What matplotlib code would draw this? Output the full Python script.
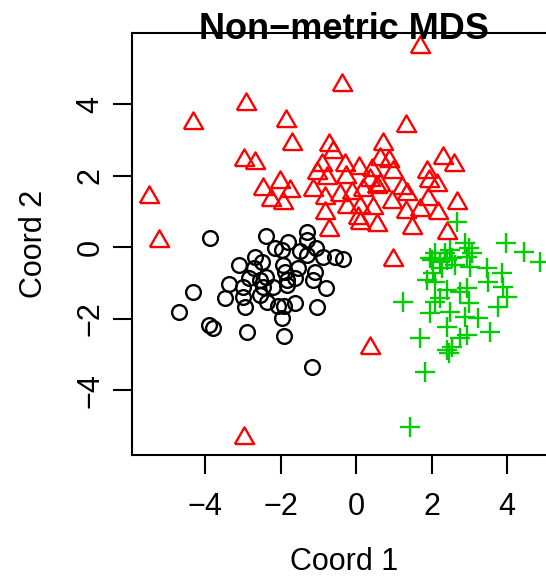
import numpy as np
import matplotlib
matplotlib.use("Agg")
import matplotlib.pyplot as plt

# point coordinates (Coord 1, Coord 2)
circ_x = [-3.87, -2.38, -1.29, -1.31, -1.81, -2.15, -1.97, -1.48, -1.06, -0.87,
          -0.56, -0.35, -1.31, -2.68, -2.50, -3.10, -2.70, -1.93, -1.88, -1.53,
          -1.09, -2.38, -2.85, -2.54, -1.84, -1.62, -1.13, -3.36, -2.19, -1.84,
          -2.46, -2.99, -0.79, -4.33, -3.47, -2.99, -2.54, -2.37, -2.06, -1.91,
          -1.62, -1.04, -2.94, -4.69, -1.97, -3.89, -3.78, -2.90, -1.91, -1.17]
circ_y = [0.25, 0.32, 0.44, 0.20, 0.14, -0.01, -0.08, -0.10, -0.03, -0.26,
          -0.26, -0.34, -0.22, -0.26, -0.40, -0.50, -0.59, -0.50, -0.68, -0.59,
          -0.68, -0.82, -0.87, -0.91, -0.91, -0.87, -0.91, -1.04, -1.10, -1.05,
          -1.10, -1.10, -1.15, -1.24, -1.41, -1.38, -1.33, -1.52, -1.64, -1.64,
          -1.57, -1.66, -1.66, -1.82, -1.99, -2.17, -2.27, -2.36, -2.48, -3.34]

tri_x = [-2.91, -4.31, -1.86, -1.70, -2.96, -2.68, -5.50, -5.22, -2.48, -2.01,
         -1.75, -2.26, -1.93, -0.71, -0.37, 1.70, -0.60, -0.91, -1.04, -0.78,
         -0.29, 0.07, -0.26, -1.15, -0.82, -0.42, -0.11, -0.82, -0.25, 0.11,
         0.06, 0.46, -0.73, 0.55, 0.42, 0.37, 0.19, 1.32, 0.72, 0.64,
         0.86, 2.31, 2.59, 1.87, 1.93, 2.14, 1.21, 1.34, 0.95, 1.90,
         1.32, 1.70, 2.18, 2.67, 1.48, 2.42, 0.99, 0.37, -2.97, 0.09,
         0.55, 0.99, 0.64]
tri_y = [4.01, 3.47, 3.54, 2.88, 2.44, 2.35, 1.42, 0.18, 1.62, 1.84,
         1.58, 1.32, 1.23, 2.86, 4.54, 5.61, 2.67, 2.30, 2.07, 1.93,
         2.30, 2.23, 1.98, 1.60, 1.37, 1.46, 1.51, 0.95, 1.14, 1.14,
         0.81, 1.09, 0.48, 0.62, 2.16, 1.88, 1.60, 3.39, 2.89, 2.48,
         2.42, 2.50, 2.30, 2.10, 1.86, 1.75, 1.65, 1.48, 1.28, 1.35,
         1.00, 1.04, 0.95, 1.25, 0.53, 0.39, -0.36, -2.83, -5.34, 0.67,
         1.70, 2.11, 1.75]

plus_x = [3.97, 4.45, 4.86, 2.67, 2.89, 3.00, 3.06, 2.95, 2.49, 2.36,
          2.09, 2.01, 2.23, 2.40, 2.54, 2.62, 2.27, 2.05, 1.87, 2.09,
          3.02, 3.46, 3.86, 3.50, 3.90, 3.99, 3.77, 2.93, 2.76, 2.40,
          2.23, 2.09, 1.25, 2.98, 2.49, 1.96, 2.89, 3.24, 2.40, 3.55,
          2.93, 2.76, 1.70, 2.54, 2.40, 2.45, 1.83, 1.43, 1.96]
plus_y = [0.13, -0.14, -0.40, 0.70, 0.11, -0.03, -0.17, -0.26, -0.08, -0.17,
          -0.17, -0.36, -0.40, -0.36, -0.31, -0.50, -0.59, -0.73, -0.91, -0.96,
          -0.54, -0.59, -0.73, -0.96, -1.10, -1.38, -1.66, -1.15, -1.24, -1.19,
          -1.43, -1.52, -1.54, -1.57, -1.80, -1.85, -1.94, -1.99, -2.22, -2.36,
          -2.45, -2.55, -2.55, -2.78, -2.87, -2.97, -3.48, -5.02, -0.31]

ticks = [-4, -2, 0, 2, 4]

plt.rcParams['font.family'] = ['Liberation Sans', 'DejaVu Sans']

W, H = 546, 576
fig = plt.figure(figsize=(W / 100, H / 100), dpi=100)
# plot box: left 132px, bottom 455px, top 33px, right edge runs past the figure
ax = fig.add_axes([132.3 / W, 1 - 455.3 / H, (555 - 132.3) / W, (455.3 - 33.3) / H])

# equilateral triangle, centred on its centroid like R's pch 2
tri_marker = [(-1, -0.577), (1, -0.577), (0, 1.155), (-1, -0.577)]

lw = 1.5
mw = 1.7
ax.plot(circ_x, circ_y, ls='none', marker='o', ms=10.6, mfc='none',
        mec='black', mew=mw, clip_on=False)
ax.plot(tri_x, tri_y, ls='none', marker=tri_marker, ms=16, mfc='none',
        mec='#FF0000', mew=mw, clip_on=False)
ax.plot(plus_x, plus_y, ls='none', marker='+', ms=14.5,
        mec='#00CD00', mew=mw, clip_on=False)

ax.set_xlim(-5.93, 5.27)
ax.set_ylim(-5.82, 5.99)
ax.set_xticks(ticks)
ax.set_yticks(ticks)

for sp in ax.spines.values():
    sp.set_linewidth(lw)
ax.tick_params(length=13.7, width=lw, labelsize=22)
ax.tick_params(axis='x', pad=12.5)
ax.tick_params(axis='y', pad=5.5)
for lab in ax.get_yticklabels():
    lab.set_rotation(90)
    lab.set_va('center')
    lab.set_ha('right')

ax.set_xlabel('Coord 1', fontsize=22, va='baseline')
ax.xaxis.set_label_coords(0.5, (455.3 - 570) / 422.0)
ax.set_ylabel('Coord 2', fontsize=22, va='baseline')
ax.yaxis.set_label_coords((41.7 - 132.3) / 422.7, 0.5)

ax.set_title('Non\u2212metric MDS', fontsize=26, fontweight='bold',
             y=(455.3 - 39) / 422.0, pad=0)

fig.savefig('out.png', dpi=100)
